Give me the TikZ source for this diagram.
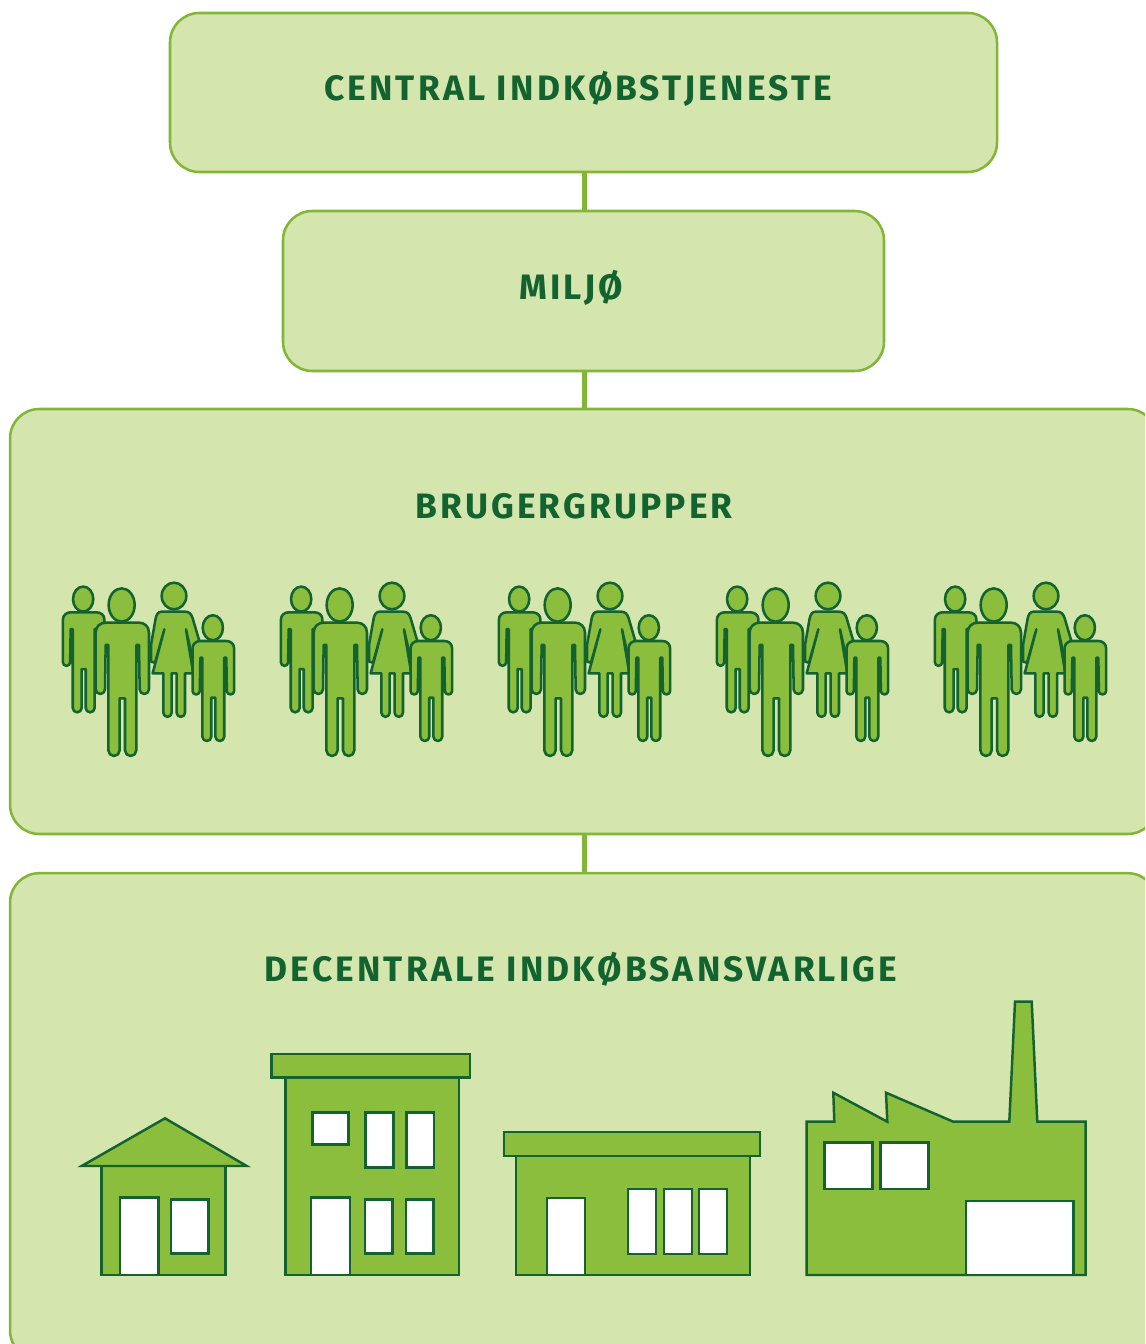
\documentclass[tikz,border=0pt]{standalone}
\usepackage{fontspec}
\setmainfont{Fira Sans}[LetterSpace=9]
\definecolor{panel}{HTML}{D4E5AE}
\definecolor{edge}{HTML}{82B636}
\definecolor{mid}{HTML}{8ABE3C}
\definecolor{deep}{HTML}{12632F}
\tikzset{
  panelbox/.style={draw=edge,fill=panel,line width=1.9pt,rounded corners=22pt,inner sep=0pt},
  title/.style={text=deep,font=\bfseries\fontsize{26.5pt}{30pt}\selectfont,anchor=base,inner sep=0pt},
  link/.style={draw=edge,line width=3.75pt},
  solid shape/.style={draw=deep,fill=mid,line width=1.85pt,line join=miter},
  opening/.style={draw=deep,fill=white,line width=1.85pt},
  figure/.style={draw=deep,fill=mid,line width=1.9pt,line join=round}
}
\newcommand{\personfig}[4]{%
  \begin{scope}[shift={(#1,#2)},xscale=#3,yscale=#4]
    \path[figure] (-2,-53) ellipse[x radius=39,y radius=50];
    \path[figure] (-80,30) .. controls (-80,10) and (-65,0) .. (-50,0) -- (50,0)
      .. controls (65,0) and (80,10) .. (80,30) -- (80,200)
      arc[start angle=0,end angle=180,radius=14] -- (50,67) -- (42,67) -- (42,383)
      arc[start angle=0,end angle=180,radius=17] -- (8,227) -- (-8,227) -- (-8,383)
      arc[start angle=0,end angle=180,radius=17] -- (-42,67) -- (-50,67) -- (-52,200)
      arc[start angle=0,end angle=180,radius=14] -- cycle;
  \end{scope}}
\newcommand{\womanfig}{%
  \path[figure] (372,78) ellipse[x radius=37,y radius=40];
  \path[figure] (335,125) -- (405,125) .. controls (418,125) and (424,132) .. (428,145)
    -- (450,220) -- (452,285) -- (432,285) -- (408,178) -- (430,310) -- (405,310) -- (405,428)
    arc[start angle=0,end angle=180,radius=12.5] -- (380,310) -- (365,310) -- (365,428)
    arc[start angle=0,end angle=180,radius=12.5] -- (340,310) -- (308,310) -- (343,178)
    -- (315,278) -- (303,275) -- (303,225) -- (317,145) .. controls (320,132) and (325,125) .. (335,125) -- cycle;}
\newcommand{\familyfig}[1]{%
  \begin{scope}[shift={(50+#1,570)},x=0.25pt,y=-0.25pt]
    \personfig{101}{127}{0.78}{0.75}
    \personfig{217}{158}{1}{1}
    \womanfig
    \personfig{490}{213}{0.78}{0.75}
  \end{scope}}
\begin{document}
\begin{tikzpicture}[x=0.75pt,y=-0.75pt]
\useasboundingbox (0,0) rectangle (1145,1344);
\clip (0,0) rectangle (1145,1344);
% boxes
\node[panelbox,minimum width=620.25pt,minimum height=119.25pt] (central) at (583.5,92.5) {};
\node[panelbox,minimum width=450.75pt,minimum height=120pt] (miljo) at (583.5,291) {};
\node[panelbox,minimum width=860.2pt,minimum height=318.75pt] (bruger) at (583.5,621.5) {};
\node[panelbox,minimum width=860.2pt,minimum height=365pt] (decentral) at (583.5,1116.5) {};
% connectors
\draw[link] ([xshift=0.75pt]central.south) -- ([xshift=0.75pt]miljo.north);
\draw[link] ([xshift=0.75pt]miljo.south) -- ([xshift=0.75pt]bruger.north);
\draw[link] ([xshift=0.75pt]bruger.south) -- ([xshift=0.75pt]decentral.north);
% titles
\node[title] (t1) at (578,101) {CENTRAL INDKØBSTJENESTE};
\node[title] (t2) at (571,300) {MILJØ};
\node[title] (t3) at (574,518.5) {BRUGERGRUPPER};
\node[title] (t4) at (581,981.5) {DECENTRALE INDKØBSANSVARLIGE};
% families
\familyfig{0}
\familyfig{218}
\familyfig{436}
\familyfig{654}
\familyfig{872}
% house
\draw[solid shape] (101.7,1166) rectangle (225.7,1275);
\draw[solid shape] (165,1118.3) -- (81.7,1166) -- (246.7,1166) -- cycle;
\draw[opening] (120,1197.7) rectangle (158.3,1275);
\draw[opening] (171,1199.3) rectangle (208.3,1253.3);
% tall building
\draw[solid shape] (285.7,1077.7) rectangle (459,1275);
\draw[solid shape] (271.7,1054) rectangle (470,1077.7);
\draw[opening] (312.3,1112.7) rectangle (348.3,1144.3);
\draw[opening] (365.7,1112.7) rectangle (393.3,1167.7);
\draw[opening] (406.7,1112.7) rectangle (434,1167.7);
\draw[opening] (311,1197.7) rectangle (350,1275);
\draw[opening] (365,1199.3) rectangle (392.3,1253.3);
\draw[opening] (406,1199.3) rectangle (433.3,1253.3);
% low building
\draw[solid shape] (516,1156) rectangle (750,1275);
\draw[solid shape] (504,1132) rectangle (760,1156);
\draw[opening] (547,1198) rectangle (585,1275);
\draw[opening] (628,1189) rectangle (656,1254);
\draw[opening] (664,1189) rectangle (692,1254);
\draw[opening] (699,1189) rectangle (727,1254);
% factory
\draw[solid shape] (806.7,1121.7) -- (834.3,1121.7) -- (833.3,1092.7) -- (887.3,1121.7) -- (886,1092.7)
  -- (953.3,1121.7) -- (1009.3,1121.7) -- (1015,1001.7) -- (1031.7,1001.7) -- (1037.3,1121.7)
  -- (1085.7,1121.7) -- (1085.7,1275) -- (806.7,1275) -- cycle;
\draw[opening] (824.3,1142.7) rectangle (872.3,1189);
\draw[opening] (880.3,1142.7) rectangle (928.7,1189);
\draw[opening] (966,1201) rectangle (1073.3,1275);
\end{tikzpicture}
\end{document}
